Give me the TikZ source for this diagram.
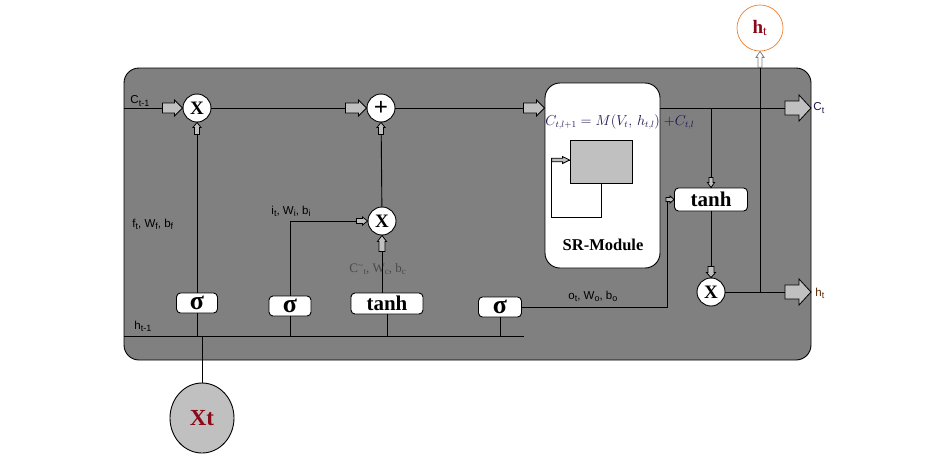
\documentclass[tikz,border=0pt]{standalone}
\usepackage{fontspec}
\setmainfont{Liberation Serif}
\newfontfamily\lsans{Liberation Sans}
\usetikzlibrary{shapes.geometric}
\definecolor{boxgray}{HTML}{808080}
\definecolor{agray}{HTML}{C0C0C0}
\definecolor{dred}{HTML}{8B0A1A}
\definecolor{eqblue}{HTML}{1E1450}
\definecolor{orng}{HTML}{F08030}
\definecolor{lblgray}{HTML}{4A4A4A}
\definecolor{hbrown}{HTML}{5A2800}
\newcommand\sbs[1]{\raisebox{-2.2pt}{\fontsize{9}{9}\selectfont #1}}
\begin{document}
\begin{tikzpicture}[x=1pt,y=-1pt,line width=0.9pt,
  op/.style={circle,draw,fill=white,minimum size=28pt,inner sep=0pt,font=\fontsize{19}{19}\selectfont\bfseries},
  gate/.style={draw,fill=white,rounded corners=4pt,inner sep=0pt,font=\fontsize{21}{21}\selectfont\bfseries},
  sig/.style={gate,font=\fontsize{26}{26}\selectfont\bfseries},
  lbl/.style={font=\lsans\fontsize{11.5}{11.5}\selectfont,inner sep=0pt,anchor=west},
  barrowstyle/.style={fill=agray,draw=black,line width=0.8pt},
  pics/barrow/.style n args={4}{code={\draw[barrowstyle] (0,0) -- (-#4,#3) -- (-#4,#2) -- (-#1,#2) -- (-#1,-#2) -- (-#4,-#2) -- (-#4,-#3) -- cycle;}}
]
\useasboundingbox (0,0) rectangle (950,459);
\draw[fill=boxgray,rounded corners=15pt] (124,68) rectangle (811,360);

% nodes
\node[op] (x1) at (197,108) {X};
\node[op,font=\fontsize{25}{25}\selectfont\bfseries] (plus) at (381,108) {+};
\node[op] (x2) at (382,221) {X};
\node[op] (x3) at (711,292) {X};
\node[sig,minimum width=41pt,minimum height=20pt] (s1) at (197,303) {σ};
\node[sig,minimum width=42pt,minimum height=20pt] (s2) at (290,306) {σ};
\node[gate,minimum width=72pt,minimum height=21pt] (t1) at (387,303.5) {tanh};
\node[sig,minimum width=43pt,minimum height=20pt] (s3) at (500,307) {σ};
\node[gate,minimum width=73pt,minimum height=23pt] (t2) at (711,199.5) {tanh};
\node[draw,fill=white,rounded corners=15pt,minimum width=115pt,minimum height=185pt] (sr) at (602.5,175.5) {};
\node[draw,fill=agray,minimum width=62pt,minimum height=43pt,line width=0.8pt] (inner) at (601,161.5) {};
\node[font=\fontsize{16.5}{16.5}\selectfont\bfseries] (srl) at (603,245) {SR-Module};
\node[anchor=west,text=eqblue,font=\fontsize{13.5}{13.5}\selectfont,inner sep=0pt] (eq) at (545,122) {$C_{t,l+1} = M(V_t,\, h_{t,l})\;{+}C_{t,l}$};
\node[circle,draw=orng,fill=white,minimum size=46pt,inner sep=0pt,line width=0.7pt,text=dred] (ht) at (760,28) {\fontsize{19}{19}\selectfont\bfseries h\textsubscript{\mdseries t}};
\node[ellipse,draw,fill=agray,minimum width=64pt,minimum height=70pt,inner sep=0pt,text=dred,font=\fontsize{23}{23}\selectfont\bfseries] (xt) at (202,418) {Xt};

% labels
\node[lbl] (lc) at (130,101) {C\sbs{t-1}};
\node[lbl] (lf) at (132,224) {f\sbs{t}, W\sbs{f}, b\sbs{f}};
\node[lbl] (li) at (271,211) {i\sbs{t}, W\sbs{i}, b\sbs{i}};
\node[lbl,font=\fontsize{13}{13}\selectfont,text=lblgray] (lcc) at (349,269) {C\textsuperscript{\textasciitilde}\sbs{t}, W\sbs{c}, b\sbs{c}};
\node[lbl] (lh) at (134,326) {h\sbs{t-1}};
\node[lbl] (lo) at (568,296) {o\sbs{t}, W\sbs{o}, b\sbs{o}};
\node[lbl,text=eqblue] (lct) at (813,108) {C\sbs{t}};
\node[lbl,text=hbrown] (lht) at (815,293) {h\sbs{t}};

% coordinates
\coordinate (cin) at (124,108);
\coordinate (cout) at (811,108);
\coordinate (br) at (711,108);
\coordinate (jtop) at (760,68);
\coordinate (jh) at (760,292);
\coordinate (hout) at (811,292);
\coordinate (hl) at (124,336);
\coordinate (hr) at (524,336);
\coordinate (o1) at (667,307);
\coordinate (l1) at (601,217);
\coordinate (l2) at (551,217);
\coordinate (l3) at (551,160);

% connectors
\draw (cin) -- (x1);
\draw (x1) -- (plus);
\draw (x2) -- (plus);
\draw (plus.east) -- (plus -| sr.west);
\draw (sr.east |- plus) -- (cout);
\draw (br) -- (t2.north);
\draw (t2) -- (x3);
\draw (x3) -- (hout);
\draw (jh) -- (jtop);
\draw (hl) -- (hr);
\draw (s1.north) -- (x1.south);
\draw (s1.south) -- (s1.south |- hl);
\draw (s2.south) -- (s2.south |- hl);
\draw (s2.north) |- (x2.west);
\draw (t1.north -| x2) -- (x2.south);
\draw (t1.south) -- (t1.south |- hl);
\draw (s3.south) -- (s3.south |- hl);
\draw (s3.east) -- (o1) |- (t2.west);
\draw (xt.north) -- (xt.north |- hl);
\draw[line width=0.8pt] (inner.south) -- (l1) -- (l2) -- (l3) -- (l3 -| inner.west);

% block arrows
\pic at (x1.west) {barrow={20}{5}{8}{8}};
\pic at (plus.west) {barrow={21}{5}{8}{8}};
\pic at (plus -| sr.west) {barrow={21}{5}{8}{8}};
\pic at (cout) {barrow={26}{7}{13}{12}};
\pic at (hout) {barrow={26}{7}{13}{12}};
\pic[rotate=90] at (x1.south) {barrow={12}{2.5}{4}{5}};
\pic[rotate=90] at (plus.south) {barrow={12}{2.5}{4}{5}};
\pic[rotate=90] at (x2.south) {barrow={16}{3}{4.5}{6}};
\pic at (x2.west) {barrow={11}{2.5}{4}{5}};
\pic[rotate=-90] at (t2.north) {barrow={10}{2}{3.5}{5}};
\pic[rotate=-90] at (x3.north) {barrow={11}{3}{4.5}{5}};
\pic at (t2.west) {barrow={8}{2}{3.5}{4}};
\pic at (l3 -| inner.west) {barrow={18}{1.8}{3.5}{7}};
\pic[barrowstyle/.style={fill=white,draw=gray,line width=0.8pt},rotate=90] at (ht.south) {barrow={16}{2}{4}{6}};
\end{tikzpicture}
\end{document}
